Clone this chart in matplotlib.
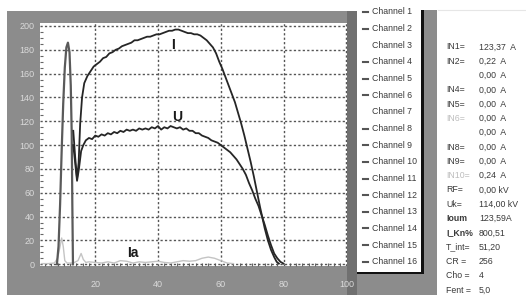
import matplotlib
matplotlib.use('Agg')
import matplotlib.pyplot as plt
from matplotlib.patches import Rectangle
from matplotlib.ticker import MultipleLocator

W, H = 526, 295
NARROW = ['Liberation Sans', 'DejaVu Sans']

# ---------------- data ----------------
spike_x = [7.8, 8.3, 8.8, 9.3, 9.8, 10.3, 10.8, 11.3, 11.8, 12.2, 12.5, 12.7, 12.9]
spike_y = [0, 15, 50, 95, 135, 165, 182, 186, 178, 150, 110, 50, 0]

i_x = [13.0, 13.6, 14.2, 14.7, 15.2, 15.8, 16.5, 17.5, 18.5, 19.5, 20.5, 21.5, 22.5, 23.5,
       24.5, 25.5, 26.5, 27.5, 28.5, 29.5, 30.5, 31.5, 32.5, 33.5, 34.5, 35.5, 36.5, 37.5,
       38.5, 39.5, 40.5, 41.5, 42.5, 43.5, 44.5, 45.5, 46.5, 47.5, 48.5, 49.5, 50.5, 51.5,
       52.5, 53.5, 54.5, 55.5, 56.5, 57.5, 58.5, 59.5, 60.5, 61.5, 62.5, 63.5, 64.5, 65.5,
       66.5, 67.5, 68.5, 69.5, 70.5, 71.5, 72.5, 73.0, 74.0, 75.0, 76.0, 77.0, 77.8, 78.5]
i_y = [112, 90, 72, 85, 118, 140, 152, 158, 162, 166, 168, 170, 173, 174,
       177, 178, 180, 181, 183, 184, 185, 186, 188, 188, 189, 190, 191, 191,
       192, 193, 193, 194, 195, 196, 196, 197, 197, 196, 195, 194, 194, 193,
       193, 192, 190, 188, 185, 182, 177, 170, 164, 157, 150, 143, 136, 127,
       118, 108, 97, 86, 74, 61, 48, 42, 30, 20, 12, 6, 2, 0.5]

u_x = [13.0, 13.6, 14.2, 14.8, 15.5, 16.2, 17, 18, 19, 20, 21, 22, 23, 24, 25, 26, 27,
       28, 29, 30, 31, 32, 33, 34, 35, 36, 37, 38, 39, 40, 41, 42, 43, 44, 45, 46, 47,
       48, 49, 50, 51, 52, 53, 54, 55, 56, 57, 58, 59, 60, 61, 62, 63, 64, 65, 66, 67,
       68, 69, 70, 71, 72, 72.5, 73, 74, 75, 76, 77, 78, 79, 80]
u_y = [100, 85, 70, 80, 95, 100, 104, 106, 105, 108, 107, 109, 108, 110, 109, 111, 110,
       112, 111, 113, 112, 113, 112, 114, 113, 114, 113, 115, 114, 116, 113, 115, 114, 116,
       115, 114, 115, 113, 114, 112, 112, 110, 110, 108, 107, 106, 104, 103, 102, 100, 98,
       96, 94, 91, 88, 84, 80, 75, 68, 62, 55, 49, 45, 41, 33, 24, 16, 9, 5, 2, 0.5]

ia_x = [3, 5, 7, 8, 8.8, 9.3, 9.8, 10.3, 11, 13, 14.5, 15.5, 16.2, 17, 18, 20, 22, 24, 26,
        28, 30, 32, 34, 36, 38, 40, 42, 44, 46, 48, 50, 52, 54, 56, 58, 60, 62, 64]
ia_y = [0.5, 0.5, 1, 5, 15, 22, 15, 3, 1, 1, 3, 9, 4, 1.5, 2, 1.5, 1, 2, 1, 3, 2.5, 1, 2,
        1.5, 2, 2.5, 1.5, 1, 2, 3, 2.5, 3, 5, 6, 5, 3, 1, 0.5]

x_ticks = [20, 40, 60, 80, 100]
y_ticks = [0, 20, 40, 60, 80, 100, 120, 140, 160, 180, 200]

channels = ['Channel %d' % k for k in range(1, 17)]
channel_has_line = [True, True, False, True, True, True, False, True,
                    True, True, True, True, True, True, True, True]

info_labels = ['IN1=', 'IN2=', '', 'IN4=', 'IN5=', 'IN6=', '', 'IN8=', 'IN9=', 'IN10=',
               'RF=', 'Uk=', 'Ioum', 'I_Kn%', 'T_int=', 'CR =', 'Cho =', 'Fent =']
info_values = ['123,37  A', '0,22  A', '0,00  A', '0,00  A', '0,00  A', '0,00  A',
               '0,00  A', '0,00  A', '0,00  A', '0,24  A', '0,00 kV', '114,00 kV',
               '123,59A', '800,51', '51,20', '256', '4', '5,0']
info_light = [False, False, False, False, False, True, False, False, False, True,
              False, False, False, False, False, False, False, False]
info_bold = [False] * 12 + [True, True] + [False] * 4

# ---------------- figure ----------------
fig = plt.figure(figsize=(W / 100, H / 100), dpi=100)
fig.patch.set_facecolor('white')


def fx(x):
    return x / W


def fy(y):
    return 1 - y / H


def rect(x0, y0, x1, y1, color, z=-5):
    fig.add_artist(Rectangle((fx(x0), fy(y1)), (x1 - x0) / W, (y1 - y0) / H,
                             transform=fig.transFigure, facecolor=color,
                             edgecolor='none', zorder=z))


GRAY = '#8c8c8c'
rect(7, 11, 437, 295, GRAY)
rect(347, 11, 357, 295, '#707070')
# legend box
rect(357, 0, 421, 272, 'white', z=-4)
rect(421, 10, 423.5, 274, '#111111', z=-3)
rect(357, 271.5, 423.5, 274, '#111111', z=-3)
rect(423.5, 10, 437, 295, GRAY, z=-3)

ax = fig.add_axes([fx(40), fy(266), (347 - 40) / W, (266 - 23) / H])
ax.set_facecolor('white')
ax.set_xlim(2.4, 100.2)
ax.set_ylim(-1.5, 202.5)
for s in ax.spines.values():
    s.set_visible(False)
ax.set_xticks(x_ticks)
ax.set_yticks(y_ticks)
ax.xaxis.set_minor_locator(MultipleLocator(2))
ax.yaxis.set_minor_locator(MultipleLocator(5))
ax.tick_params(which='major', length=0, labelcolor='#dadada', labelsize=6.5)
ax.tick_params(axis='x', which='major', pad=10)
ax.tick_params(axis='y', which='major', pad=4)
ax.tick_params(which='minor', direction='in', length=2.5, color='#666666', width=0.8)
for lab in ax.get_xticklabels() + ax.get_yticklabels():
    lab.set_family(NARROW)
ax.grid(True, which='major', color='#555555', linestyle=(0, (1.6, 1.6)), linewidth=1.0)
ax.set_axisbelow(True)

ax.plot(ia_x, ia_y, color='#c4c4c4', linewidth=1.0)
ax.plot(spike_x, spike_y, color='#5a5a5a', linewidth=1.6)
ax.plot(u_x, u_y, color='#262626', linewidth=1.3)
ax.plot(i_x, i_y, color='#262626', linewidth=1.3)

ax.text(44.7, 184, 'I', fontsize=10, fontweight='bold', color='#1a1a1a',
        ha='center', va='center', family=['Liberation Sans', 'DejaVu Sans'])
ax.text(46, 123.5, 'U', fontsize=10, fontweight='bold', color='#1a1a1a',
        ha='center', va='center', family=['Liberation Sans', 'DejaVu Sans'])
ax.text(32, 9, 'Ia', fontsize=10, fontweight='bold', color='#1a1a1a',
        ha='center', va='center', family=['Liberation Sans', 'DejaVu Sans'])

# legend entries
for k, name in enumerate(channels):
    yy = 12 + 16.65 * k
    if channel_has_line[k]:
        fig.add_artist(plt.Line2D([fx(362.5), fx(368)], [fy(yy), fy(yy)],
                                  transform=fig.transFigure, color='#555555',
                                  linewidth=1.5))
    fig.text(fx(371.5), fy(yy), name, fontsize=6.3, color='#3a3a3a',
             ha='left', va='center', family=NARROW)

# info panel
fig.add_artist(plt.Line2D([fx(438), fx(526)], [fy(10), fy(10)],
                          transform=fig.transFigure, color='#e6e6e6', linewidth=0.8))
for k in range(len(info_values)):
    yy = 47 + 14.3 * k
    col = '#bdbdbd' if info_light[k] else '#3a3a3a'
    wt = 'bold' if info_bold[k] else 'normal'
    if info_labels[k]:
        fig.text(fx(446), fy(yy), info_labels[k], fontsize=6.3, color=col,
                 fontweight=wt, ha='left', va='center', family=NARROW)
    fig.text(fx(479), fy(yy), info_values[k], fontsize=6.3, color='#3a3a3a',
             ha='left', va='center', family=NARROW)

fig.savefig('out.png', dpi=100, facecolor='white')
